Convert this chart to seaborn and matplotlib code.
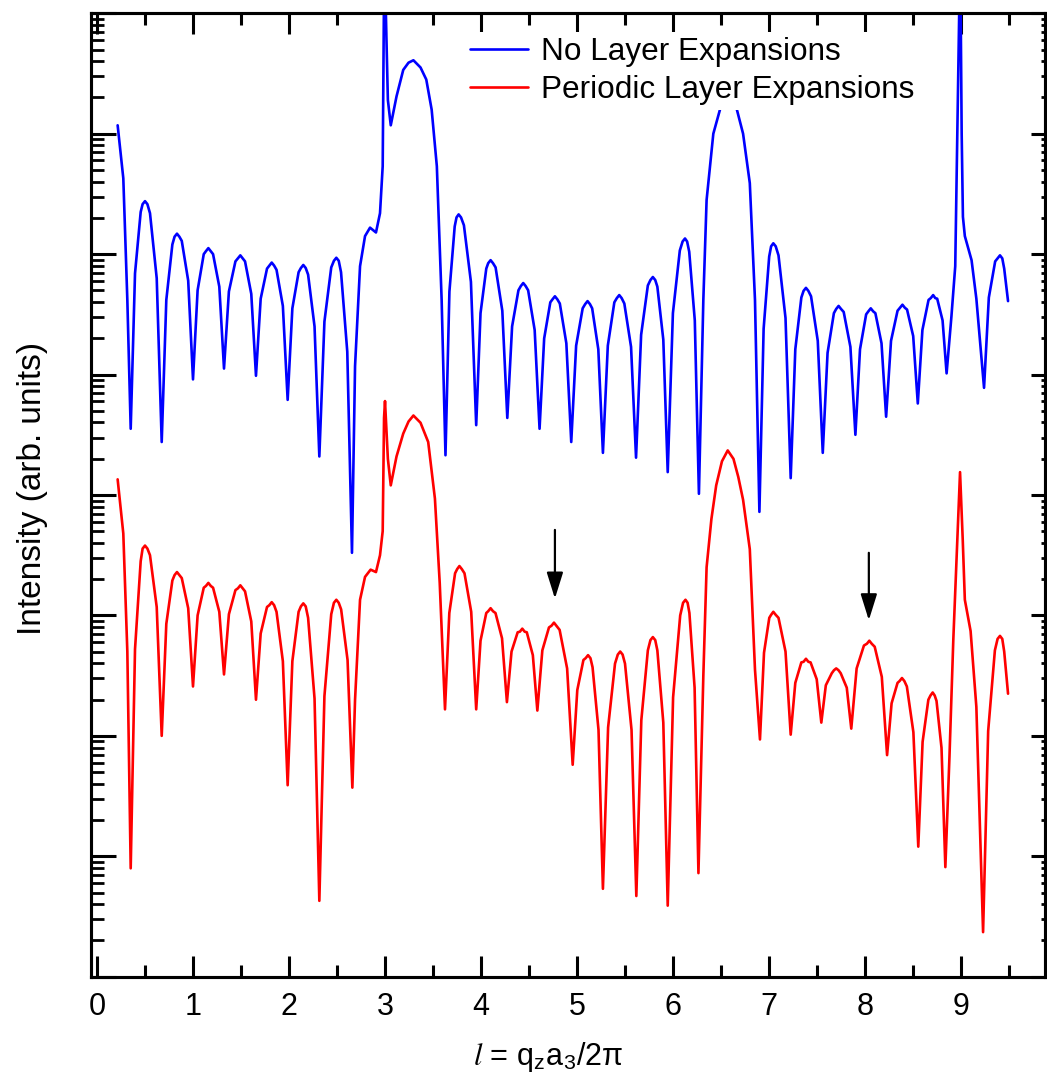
import numpy as np
import pandas as pd
import matplotlib
matplotlib.use("Agg")
import matplotlib.pyplot as plt
import seaborn as sns
from matplotlib.ticker import MultipleLocator, LogLocator, NullFormatter

# ---------------- data (intensities as log10) ----------------
blue_l = [0.215, 0.274, 0.316, 0.351, 0.396, 0.455, 0.475, 0.500, 0.525, 0.552,
          0.622, 0.674, 0.722, 0.785, 0.808, 0.833, 0.858, 0.883, 0.950, 1.000,
          1.048, 1.112, 1.135, 1.160, 1.185, 1.209, 1.274, 1.323, 1.374, 1.442,
          1.468, 1.493, 1.518, 1.542, 1.607, 1.656, 1.705, 1.771, 1.795, 1.820,
          1.845, 1.870, 1.936, 1.986, 2.035, 2.100, 2.124, 2.149, 2.174, 2.199,
          2.266, 2.316, 2.369, 2.440, 2.468, 2.493, 2.518, 2.542, 2.607, 2.656,
          2.688, 2.740, 2.792, 2.844, 2.906, 2.948, 2.976, 2.990, 3.003, 3.030,
          3.060, 3.120, 3.190, 3.245, 3.296, 3.370, 3.430, 3.486, 3.540, 3.590,
          3.630, 3.671, 3.726, 3.745, 3.767, 3.792, 3.822, 3.895, 3.950, 3.995,
          4.055, 4.075, 4.100, 4.125, 4.152, 4.222, 4.274, 4.324, 4.390, 4.415,
          4.440, 4.465, 4.491, 4.559, 4.610, 4.658, 4.722, 4.745, 4.770, 4.795,
          4.821, 4.889, 4.940, 4.991, 5.059, 5.085, 5.110, 5.135, 5.158, 5.222,
          5.270, 5.321, 5.389, 5.415, 5.440, 5.465, 5.493, 5.563, 5.615, 5.668,
          5.738, 5.765, 5.790, 5.815, 5.837, 5.899, 5.945, 5.999, 6.071, 6.100,
          6.125, 6.147, 6.169, 6.227, 6.270, 6.316, 6.350, 6.420, 6.510, 6.570,
          6.630, 6.730, 6.800, 6.854, 6.900, 6.944, 7.002, 7.022, 7.045, 7.070,
          7.099, 7.172, 7.226, 7.274, 7.337, 7.360, 7.385, 7.410, 7.438, 7.508,
          7.560, 7.610, 7.676, 7.700, 7.725, 7.750, 7.778, 7.848, 7.900, 7.948,
          8.012, 8.035, 8.060, 8.085, 8.108, 8.172, 8.220, 8.271, 8.339, 8.365,
          8.390, 8.415, 8.438, 8.502, 8.550, 8.598, 8.662, 8.685, 8.710, 8.732,
          8.752, 8.808, 8.850, 8.900, 8.940, 8.985, 8.995, 9.007, 9.020, 9.040,
          9.110, 9.160, 9.240, 9.290, 9.356, 9.381, 9.406, 9.430, 9.450, 9.490]
blue_log_intensity = [7.07, 6.63, 5.62, 4.55, 5.84, 6.35, 6.415, 6.44, 6.415, 6.34,
                      5.80, 4.44, 5.62, 6.08, 6.145, 6.17, 6.145, 6.11, 5.78, 4.96,
                      5.70, 6.00, 6.025, 6.05, 6.025, 6.00, 5.73, 5.05, 5.69, 5.94,
                      5.965, 5.99, 5.965, 5.94, 5.67, 4.99, 5.63, 5.88, 5.905, 5.93,
                      5.905, 5.87, 5.57, 4.79, 5.55, 5.85, 5.885, 5.91, 5.885, 5.83,
                      5.40, 4.32, 5.44, 5.89, 5.945, 5.97, 5.945, 5.85, 5.19, 3.52,
                      5.07, 5.90, 6.15, 6.22, 6.18, 6.34, 6.73, 8.20, 8.20, 7.28,
                      7.07, 7.31, 7.53, 7.59, 7.61, 7.55, 7.45, 7.20, 6.73, 5.62,
                      4.33, 5.69, 6.23, 6.305, 6.33, 6.305, 6.24, 5.77, 4.58, 5.51,
                      5.88, 5.925, 5.95, 5.925, 5.89, 5.53, 4.64, 5.40, 5.70, 5.735,
                      5.76, 5.735, 5.70, 5.37, 4.55, 5.30, 5.60, 5.625, 5.65, 5.625,
                      5.59, 5.26, 4.44, 5.24, 5.55, 5.585, 5.61, 5.585, 5.55, 5.21,
                      4.35, 5.24, 5.60, 5.635, 5.66, 5.635, 5.59, 5.23, 4.31, 5.33,
                      5.74, 5.785, 5.81, 5.785, 5.73, 5.29, 4.19, 5.51, 6.03, 6.105,
                      6.13, 6.105, 6.02, 5.45, 4.01, 5.62, 6.45, 7.00, 7.26, 7.50,
                      7.31, 7.00, 6.59, 5.62, 3.86, 5.38, 5.98, 6.065, 6.09, 6.065,
                      5.99, 5.47, 4.14, 5.21, 5.64, 5.695, 5.72, 5.695, 5.65, 5.28,
                      4.35, 5.18, 5.51, 5.545, 5.57, 5.545, 5.52, 5.23, 4.50, 5.21,
                      5.50, 5.525, 5.55, 5.525, 5.51, 5.26, 4.65, 5.28, 5.53, 5.555,
                      5.58, 5.555, 5.54, 5.32, 4.76, 5.37, 5.62, 5.635, 5.66, 5.635,
                      5.63, 5.45, 5.01, 5.48, 5.90, 8.20, 8.20, 7.00, 6.31, 6.15,
                      5.95, 5.63, 4.89, 5.64, 5.94, 5.965, 5.99, 5.965, 5.88, 5.61]

red_l = [0.215, 0.274, 0.316, 0.351, 0.396, 0.455, 0.475, 0.500, 0.525, 0.552,
         0.622, 0.674, 0.722, 0.785, 0.808, 0.833, 0.858, 0.883, 0.950, 1.000,
         1.048, 1.112, 1.135, 1.160, 1.185, 1.209, 1.274, 1.323, 1.374, 1.442,
         1.468, 1.493, 1.518, 1.542, 1.607, 1.656, 1.705, 1.771, 1.795, 1.820,
         1.845, 1.870, 1.936, 1.986, 2.035, 2.100, 2.124, 2.149, 2.174, 2.199,
         2.266, 2.316, 2.369, 2.440, 2.468, 2.493, 2.518, 2.543, 2.610, 2.660,
         2.688, 2.740, 2.792, 2.850, 2.906, 2.948, 2.976, 2.990, 3.000, 3.030,
         3.060, 3.120, 3.190, 3.245, 3.296, 3.370, 3.450, 3.520, 3.570, 3.625,
         3.670, 3.730, 3.752, 3.775, 3.800, 3.828, 3.898, 3.950, 3.995, 4.055,
         4.075, 4.100, 4.125, 4.151, 4.219, 4.270, 4.318, 4.382, 4.405, 4.430,
         4.455, 4.477, 4.540, 4.587, 4.639, 4.708, 4.735, 4.760, 4.785, 4.819,
         4.897, 4.955, 5.003, 5.067, 5.090, 5.115, 5.140, 5.162, 5.224, 5.270,
         5.324, 5.396, 5.425, 5.450, 5.475, 5.500, 5.568, 5.618, 5.670, 5.738,
         5.765, 5.790, 5.815, 5.837, 5.899, 5.945, 6.001, 6.075, 6.105, 6.130,
         6.152, 6.171, 6.225, 6.265, 6.316, 6.350, 6.400, 6.450, 6.510, 6.570,
         6.630, 6.680, 6.730, 6.800, 6.854, 6.906, 6.948, 7.003, 7.022, 7.045,
         7.070, 7.099, 7.172, 7.226, 7.274, 7.337, 7.360, 7.385, 7.410, 7.433,
         7.497, 7.545, 7.592, 7.654, 7.677, 7.700, 7.724, 7.747, 7.810, 7.857,
         7.913, 7.989, 8.020, 8.045, 8.070, 8.101, 8.175, 8.230, 8.277, 8.339,
         8.360, 8.385, 8.410, 8.436, 8.504, 8.555, 8.600, 8.660, 8.682, 8.705,
         8.726, 8.745, 8.797, 8.837, 8.880, 8.920, 8.955, 8.990, 9.018, 9.040,
         9.100, 9.160, 9.230, 9.283, 9.353, 9.381, 9.406, 9.430, 9.450, 9.490]
red_log_intensity = [4.13, 3.68, 2.70, 0.90, 2.72, 3.45, 3.555, 3.58, 3.555, 3.50,
                     3.07, 2.00, 2.93, 3.29, 3.335, 3.36, 3.335, 3.31, 3.06, 2.41,
                     3.00, 3.23, 3.245, 3.27, 3.245, 3.23, 3.03, 2.51, 3.01, 3.21,
                     3.225, 3.25, 3.225, 3.20, 2.95, 2.30, 2.85, 3.07, 3.085, 3.11,
                     3.085, 3.03, 2.62, 1.59, 2.62, 3.03, 3.075, 3.10, 3.075, 2.98,
                     2.31, 0.63, 2.33, 3.01, 3.105, 3.13, 3.105, 3.05, 2.63, 1.57,
                     2.30, 3.13, 3.32, 3.38, 3.36, 3.50, 3.70, 4.64, 4.78, 4.30,
                     4.08, 4.32, 4.51, 4.61, 4.66, 4.60, 4.44, 3.97, 3.27, 2.22,
                     3.02, 3.35, 3.385, 3.41, 3.385, 3.35, 3.03, 2.22, 2.79, 3.02,
                     3.035, 3.06, 3.035, 3.02, 2.81, 2.28, 2.70, 2.86, 2.865, 2.89,
                     2.865, 2.86, 2.67, 2.21, 2.71, 2.90, 2.915, 2.94, 2.915, 2.88,
                     2.56, 1.76, 2.38, 2.63, 2.645, 2.67, 2.645, 2.57, 2.05, 0.73,
                     2.07, 2.60, 2.675, 2.70, 2.675, 2.60, 2.05, 0.67, 2.13, 2.71,
                     2.795, 2.82, 2.795, 2.71, 2.11, 0.59, 2.32, 3.00, 3.105, 3.13,
                     3.105, 3.02, 2.40, 0.86, 2.50, 3.40, 3.80, 4.08, 4.28, 4.37,
                     4.30, 4.15, 3.96, 3.55, 2.55, 1.97, 2.69, 2.98, 3.005, 3.03,
                     3.005, 2.98, 2.70, 2.01, 2.44, 2.61, 2.615, 2.64, 2.615, 2.61,
                     2.47, 2.11, 2.42, 2.52, 2.545, 2.56, 2.545, 2.52, 2.40, 2.06,
                     2.56, 2.75, 2.765, 2.79, 2.765, 2.74, 2.49, 1.84, 2.27, 2.44,
                     2.455, 2.48, 2.455, 2.41, 2.03, 1.08, 1.95, 2.30, 2.335, 2.36,
                     2.335, 2.29, 1.90, 0.91, 1.83, 2.80, 3.49, 4.19, 3.63, 3.13,
                     2.87, 2.24, 0.37, 2.04, 2.71, 2.805, 2.83, 2.805, 2.70, 2.35]

series_labels = ["No Layer Expansions", "Periodic Layer Expansions"]
x_tick_values = [0, 1, 2, 3, 4, 5, 6, 7, 8, 9]

arrow_l = [4.77, 8.04]
arrow_top_log = [3.71, 3.52]
arrow_tip_log = [3.14, 2.96]

# ---------------- style ----------------
sns.set_style("ticks")
plt.rcParams["font.family"] = ["Liberation Sans", "DejaVu Sans"]
plt.rcParams["mathtext.fontset"] = "custom"
plt.rcParams["mathtext.rm"] = "Liberation Sans"
plt.rcParams["mathtext.it"] = "STIXGeneral:italic"
for key in ["text.color", "axes.labelcolor", "xtick.color", "ytick.color", "axes.edgecolor"]:
    plt.rcParams[key] = "black"

FS = 22
LW = 1.9
W, H = 1047, 1080
fig = plt.figure(figsize=(W / 100, H / 100), dpi=100)
left_px, right_px, top_px, bot_px = 91, 1045, 13.3, 976.7
ax = fig.add_axes([left_px / W, 1 - bot_px / H, (right_px - left_px) / W, (bot_px - top_px) / H])

df = pd.concat([
    pd.DataFrame({"l": blue_l, "I": 10 ** np.array(blue_log_intensity), "series": series_labels[0]}),
    pd.DataFrame({"l": red_l, "I": 10 ** np.array(red_log_intensity), "series": series_labels[1]}),
], ignore_index=True)

sns.lineplot(data=df, x="l", y="I", hue="series", palette=["#0000ff", "#ff0000"],
             sort=False, estimator=None, linewidth=LW, ax=ax)

ax.set_yscale("log")
ax.set_ylim(1, 1e8)
ax.set_xlim(-0.0625, 9.875)

# arrows
for xa, yt, yh in zip(arrow_l, arrow_top_log, arrow_tip_log):
    ax.annotate("", xy=(xa, 10 ** yh), xytext=(xa, 10 ** yt),
                arrowprops=dict(arrowstyle="-|>,head_length=0.8,head_width=0.25",
                                color="black", lw=1.6, mutation_scale=20,
                                shrinkA=0, shrinkB=0))

# ticks
ax.set_xticks(x_tick_values)
ax.set_xticklabels([str(v) for v in x_tick_values])
ax.xaxis.set_minor_locator(MultipleLocator(0.5))
ax.yaxis.set_major_locator(LogLocator(base=10, numticks=20))
ax.yaxis.set_minor_locator(LogLocator(base=10, subs=np.arange(2, 10), numticks=20))
ax.yaxis.set_major_formatter(NullFormatter())
ax.yaxis.set_minor_formatter(NullFormatter())
ax.tick_params(axis="x", which="major", direction="in", length=15, width=2.2,
               top=True, bottom=True, labelsize=FS, pad=11, colors="black")
ax.tick_params(axis="x", which="minor", direction="in", length=8.6, width=2.2,
               top=True, bottom=True)
ax.tick_params(axis="y", which="major", direction="in", length=18, width=2.2,
               left=True, right=False)
ax.tick_params(axis="y", which="minor", direction="in", length=9.4, width=2.0,
               left=True, right=False)
for s in ax.spines.values():
    s.set_linewidth(2.2)
    s.set_color("black")

ax2 = ax.twinx()
ax2.set_yscale("log")
ax2.set_ylim(1, 1e8)
ax2.yaxis.set_major_locator(LogLocator(base=10, numticks=20))
ax2.yaxis.set_minor_locator(LogLocator(base=10, subs=np.arange(2, 10), numticks=20))
ax2.yaxis.set_major_formatter(NullFormatter())
ax2.yaxis.set_minor_formatter(NullFormatter())
ax2.tick_params(axis="y", which="major", direction="in", length=10, width=2.2)
ax2.tick_params(axis="y", which="minor", direction="in", length=3, width=2.0)
for s in ax2.spines.values():
    s.set_linewidth(2.2)
    s.set_color("black")

# labels
ax.set_ylabel("Intensity (arb. units)", fontsize=24)
ax.yaxis.label.set(rotation_mode="default", va="center", ha="center")
ax.yaxis.set_label_coords((33 - left_px) / (right_px - left_px), (bot_px - 488) / (bot_px - top_px))
ax.set_xlabel(r"$\mathit{l}$ = q$_\mathregular{z}$a$_\mathregular{3}$/2π", fontsize=FS)
ax.xaxis.label.set(va="center", ha="center")
ax.xaxis.set_label_coords((548.5 - left_px) / (right_px - left_px), (bot_px - 1057) / (bot_px - top_px))

# legend
handles, labels = ax.get_legend_handles_labels()
leg = ax.legend(handles, series_labels, loc="upper left",
                bbox_to_anchor=((465 - left_px) / (right_px - left_px), (bot_px - 32) / (bot_px - top_px)),
                fontsize=22.7, handlelength=1.85, handletextpad=0.42, labelspacing=0.26,
                borderpad=0.15, borderaxespad=0, frameon=True, framealpha=1,
                facecolor="white", edgecolor="none", fancybox=False)
leg.set_zorder(10)
for h in leg.get_lines():
    h.set_linewidth(LW)

fig.savefig("out.png", dpi=100)
